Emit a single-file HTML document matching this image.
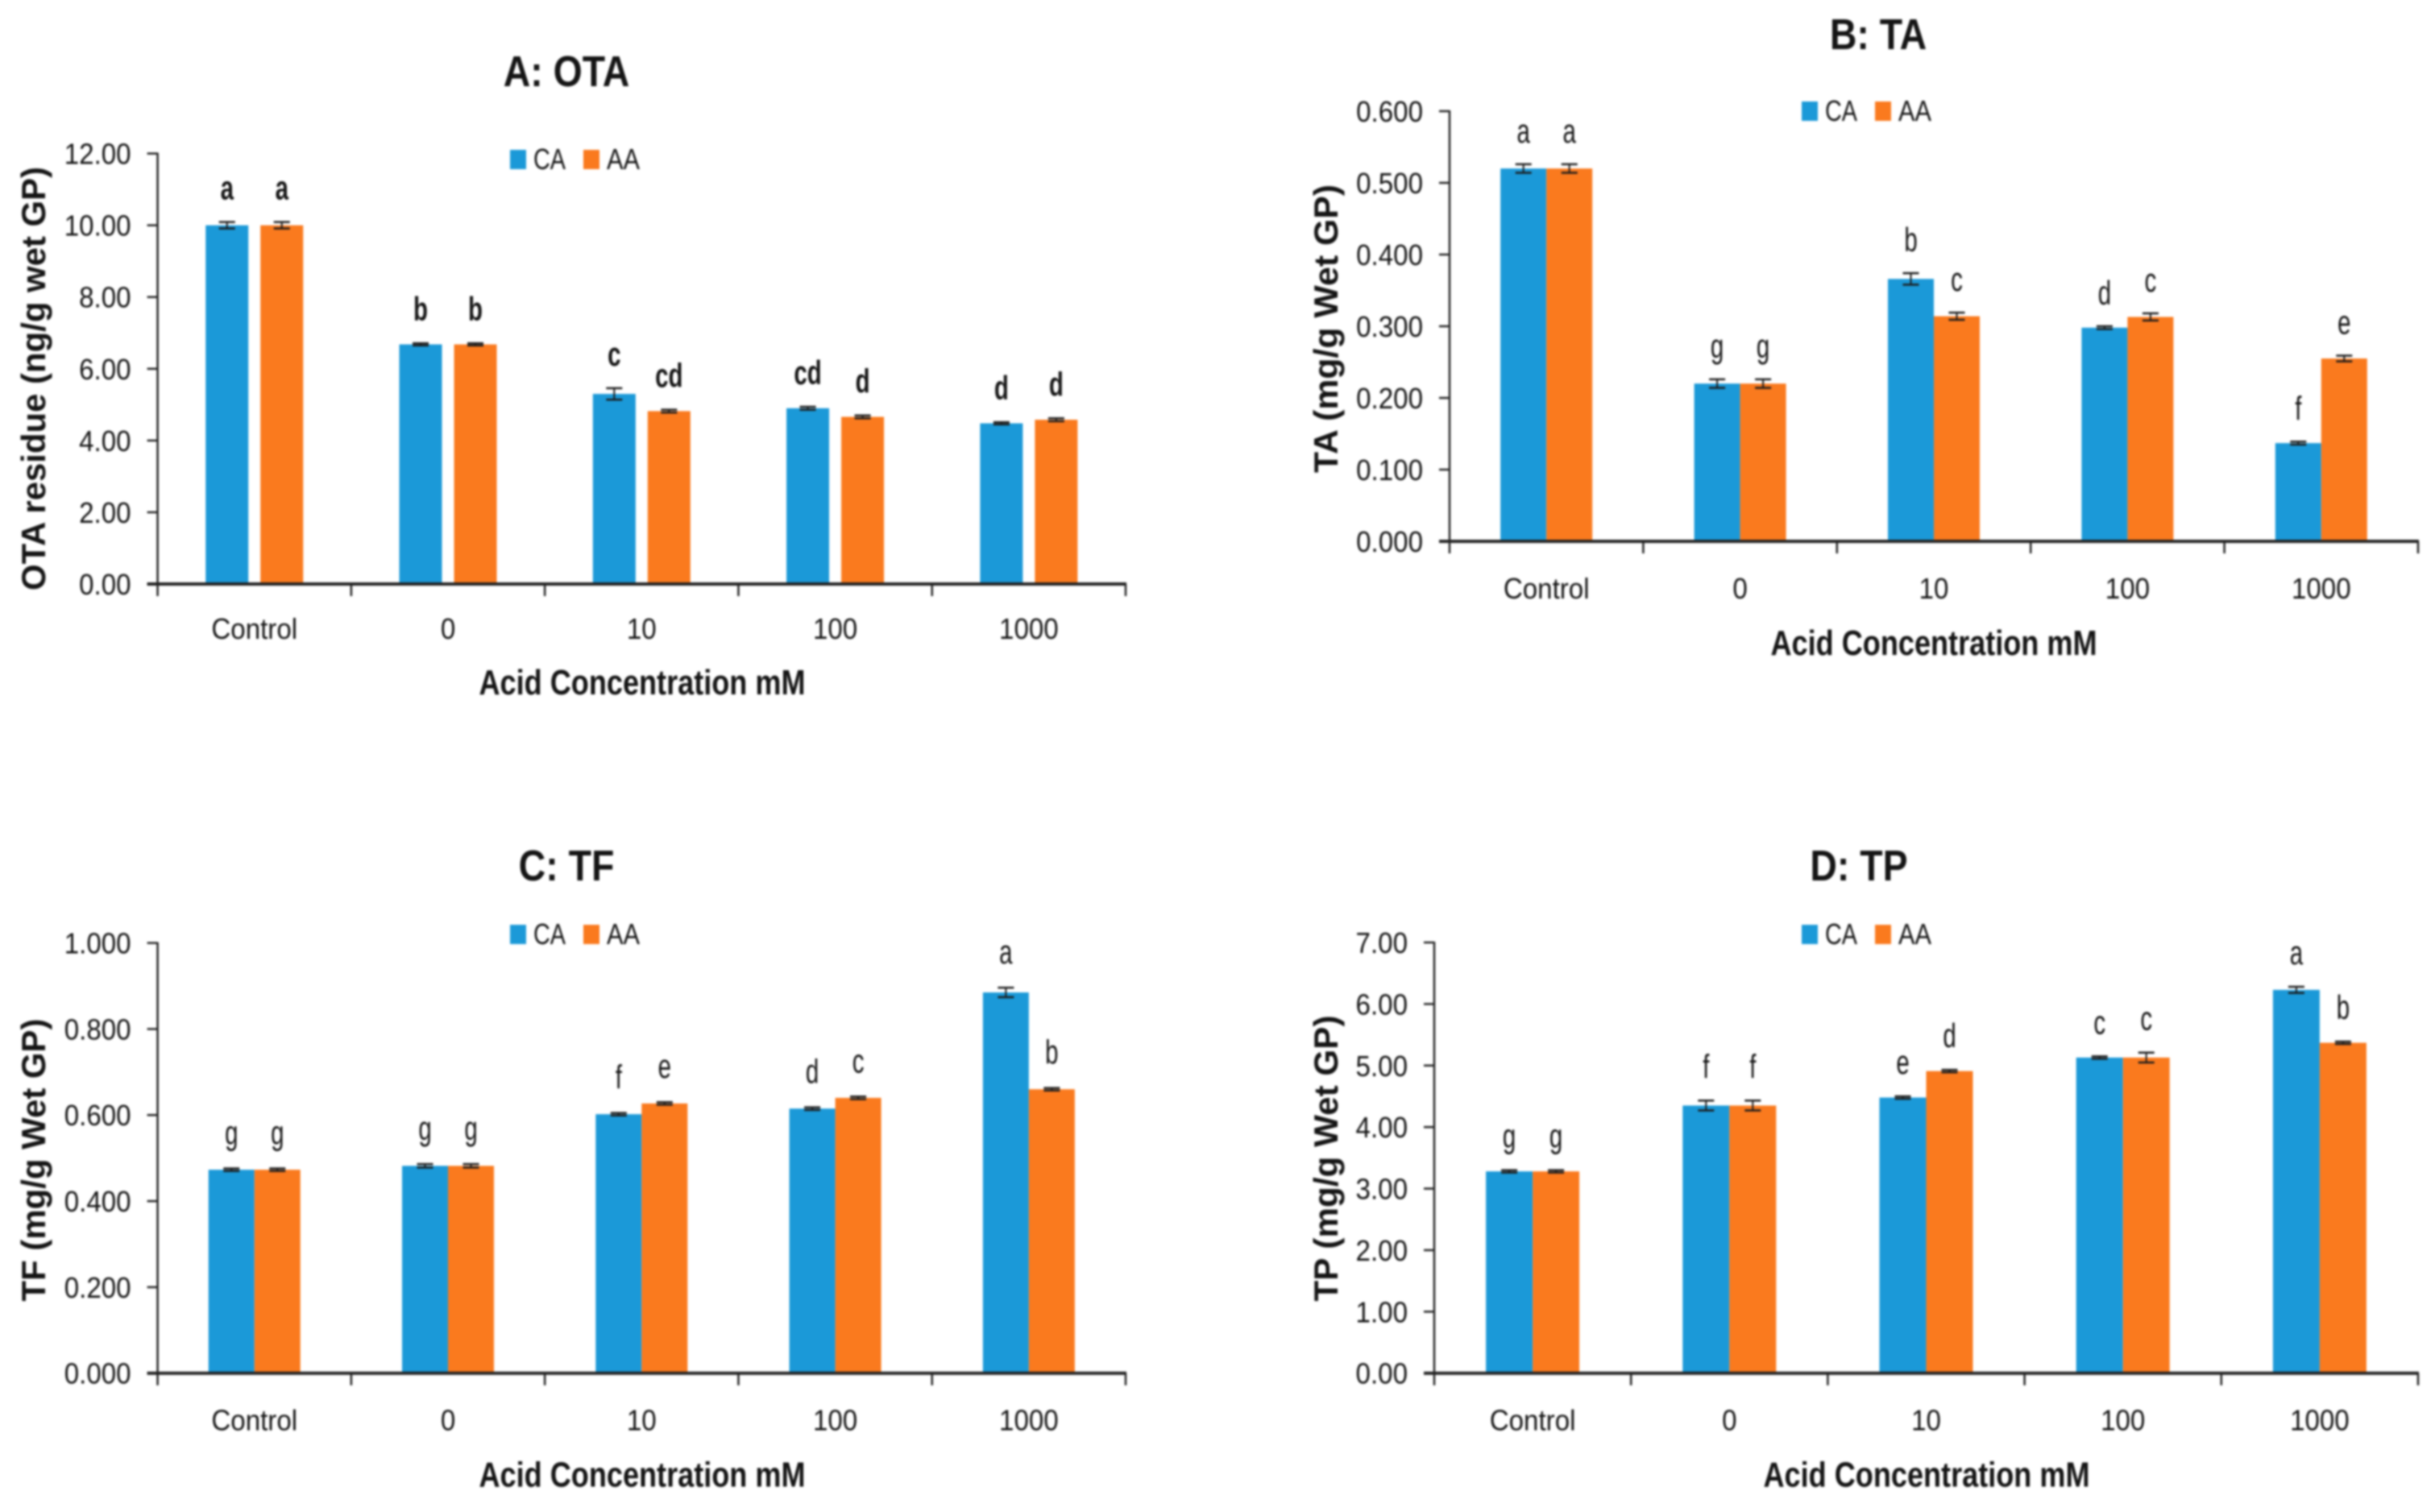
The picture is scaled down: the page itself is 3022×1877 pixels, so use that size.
<!DOCTYPE html>
<html>
<head>
<meta charset="utf-8">
<style>
html,body{margin:0;padding:0;background:#fff;width:3022px;height:1877px;overflow:hidden}
svg{display:block;filter:blur(1.3px)}
text{font-family:"Liberation Sans",sans-serif;fill:#141414}
</style>
</head>
<body>
<svg id="chart" xmlns="http://www.w3.org/2000/svg" width="3022" height="1877" viewBox="0 0 3022 1877"></svg>
<script>
const categories = ["Control", "0", "10", "100", "1000"];
const seriesNames = ["CA", "AA"];
const xAxisTitle = "Acid Concentration mM";

const otaCA = [10.0, 6.68, 5.3, 4.9, 4.48];
const otaAA = [10.0, 6.68, 4.82, 4.66, 4.58];
const otaCAErr = [0.09, 0.03, 0.16, 0.04, 0.03];
const otaAAErr = [0.09, 0.03, 0.04, 0.04, 0.04];
const otaCALetters = ["a", "b", "c", "cd", "d"];
const otaAALetters = ["a", "b", "cd", "d", "d"];
const otaTicks = ["0.00", "2.00", "4.00", "6.00", "8.00", "10.00", "12.00"];

const taCA = [0.52, 0.22, 0.366, 0.298, 0.137];
const taAA = [0.52, 0.22, 0.314, 0.313, 0.255];
const taCAErr = [0.006, 0.006, 0.008, 0.002, 0.002];
const taAAErr = [0.006, 0.006, 0.005, 0.005, 0.004];
const taCALetters = ["a", "g", "b", "d", "f"];
const taAALetters = ["a", "g", "c", "c", "e"];
const taTicks = ["0.000", "0.100", "0.200", "0.300", "0.400", "0.500", "0.600"];

const tfCA = [0.473, 0.482, 0.602, 0.615, 0.885];
const tfAA = [0.473, 0.482, 0.627, 0.64, 0.66];
const tfCAErr = [0.003, 0.004, 0.003, 0.003, 0.011];
const tfAAErr = [0.003, 0.004, 0.003, 0.003, 0.003];
const tfCALetters = ["g", "g", "f", "d", "a"];
const tfAALetters = ["g", "g", "e", "c", "b"];
const tfTicks = ["0.000", "0.200", "0.400", "0.600", "0.800", "1.000"];

const tpCA = [3.28, 4.35, 4.48, 5.13, 6.23];
const tpAA = [3.28, 4.35, 4.91, 5.13, 5.37];
const tpCAErr = [0.02, 0.08, 0.02, 0.02, 0.05];
const tpAAErr = [0.02, 0.08, 0.02, 0.08, 0.02];
const tpCALetters = ["g", "f", "e", "c", "a"];
const tpAALetters = ["g", "f", "d", "c", "b"];
const tpTicks = ["0.00", "1.00", "2.00", "3.00", "4.00", "5.00", "6.00", "7.00"];

const svg = document.getElementById('chart');
const NS = 'http://www.w3.org/2000/svg';
const BLUE = '#1b99d8';
const ORANGE = '#fa7a1e';

function mk(parent, tag, attrs, name, content) {
  const el = document.createElementNS(NS, tag);
  for (const k in attrs) el.setAttribute(k, attrs[k]);
  
  
  if (content !== undefined) el.textContent = content;
  parent.appendChild(el);
  return el;
}

function at(x, y, sx) {
  return 'translate(' + x + ',' + y + ') scale(' + sx + ',1)';
}

function drawPanel(p) {
  const g = mk(svg, 'g', {}, p.key + '-panel');
  const yMax = parseFloat(p.ticks[p.ticks.length - 1]);
  const yScale = v => p.y0 - (v / yMax) * (p.y0 - p.y1);
  const band = (p.x1 - p.x0) / categories.length;
  const xCenter = i => p.x0 + band * (i + 0.5);

  mk(g, 'text', {transform: at(p.titleX, p.titleY, 0.86), 'text-anchor': 'middle', 'font-size': 54, 'font-weight': 'bold'}, p.key + '-chart-title', p.title);

  // y-axis title
  mk(g, 'text', {
    transform: 'translate(' + p.yTitleX + ',' + p.yTitleC + ') rotate(-90)',
    'text-anchor': 'middle', 'font-size': 42, 'font-weight': 'bold',
    textLength: p.yTitleLen, lengthAdjust: 'spacingAndGlyphs'
  }, p.key + '-y-axis-title', p.yTitle);

  // legend
  const lg = mk(g, 'g', {}, p.key + '-legend');
  mk(lg, 'rect', {x: p.legX, y: p.legY, width: 20, height: 24, fill: BLUE}, 'legend-swatch-ca');
  mk(lg, 'text', {x: p.legX + 29, y: p.legY + 24, 'font-size': 36, textLength: 40, lengthAdjust: 'spacingAndGlyphs'}, 'legend-label-ca', seriesNames[0]);
  mk(lg, 'rect', {x: p.legX + 91, y: p.legY, width: 20, height: 24, fill: ORANGE}, 'legend-swatch-aa');
  mk(lg, 'text', {x: p.legX + 120, y: p.legY + 24, 'font-size': 36, textLength: 41, lengthAdjust: 'spacingAndGlyphs'}, 'legend-label-aa', seriesNames[1]);

  // y ticks
  p.ticks.forEach(t => {
    const y = yScale(parseFloat(t));
    mk(g, 'line', {x1: p.x0 - 13, x2: p.x0, y1: y, y2: y, stroke: '#222', 'stroke-width': 2.5}, p.key + '-y-tick');
    mk(g, 'text', {transform: at(p.x0 - 33, y + 13, 0.92), 'text-anchor': 'end', 'font-size': 36}, p.key + '-y-tick-label', t);
  });

  // bars
  categories.forEach((c, i) => {
    const cx = xCenter(i);
    const xs = [cx - p.gap / 2 - p.barW, cx + p.gap / 2];
    [[p.ca, p.caErr, p.caL, BLUE, 'ca'], [p.aa, p.aaErr, p.aaL, ORANGE, 'aa']].forEach((s, j) => {
      const v = s[0][i], e = s[1][i];
      const top = yScale(v);
      mk(g, 'rect', {x: xs[j], y: top, width: p.barW, height: p.y0 - top, fill: s[3]}, p.key + '-bar-' + s[4] + '-' + c.toLowerCase());
      const mx = xs[j] + p.barW / 2;
      mk(g, 'line', {x1: mx, x2: mx, y1: yScale(v + e), y2: yScale(v - e), stroke: '#1c1c1c', 'stroke-width': 2}, p.key + '-error-stem');
      mk(g, 'line', {x1: mx - 10, x2: mx + 10, y1: yScale(v + e), y2: yScale(v + e), stroke: '#1c1c1c', 'stroke-width': 2.5}, p.key + '-error-cap');
      mk(g, 'line', {x1: mx - 10, x2: mx + 10, y1: yScale(v - e), y2: yScale(v - e), stroke: '#1c1c1c', 'stroke-width': 2.5}, p.key + '-error-cap');
      mk(g, 'text', {
        transform: at(mx, yScale(v + e) - p.letterGap, 0.7),
        'text-anchor': 'middle', 'font-size': 42, 'font-weight': p.boldLetters ? 'bold' : 'normal'
      }, p.key + '-significance-letter', s[2][i]);
    });
    mk(g, 'text', {transform: at(cx, p.y0 + p.catDy, 0.92), 'text-anchor': 'middle', 'font-size': 36}, p.key + '-x-tick-label', c);
  });

  // axes
  mk(g, 'line', {x1: p.x0, x2: p.x0, y1: p.y1 - 1, y2: p.y0, stroke: '#222', 'stroke-width': 2.5}, p.key + '-y-axis');
  mk(g, 'line', {x1: p.x0 - 13, x2: p.x1 + 1, y1: p.y0, y2: p.y0, stroke: '#222', 'stroke-width': 4}, p.key + '-x-axis');
  for (let i = 0; i <= categories.length; i++) {
    const x = p.x0 + band * i;
    mk(g, 'line', {x1: x, x2: x, y1: p.y0, y2: p.y0 + 15, stroke: '#222', 'stroke-width': 2.5}, p.key + '-x-tick');
  }
  mk(g, 'text', {
    x: p.xTitleX, y: p.y0 + p.xTitleDy, 'text-anchor': 'middle', 'font-size': 44, 'font-weight': 'bold',
    textLength: 405, lengthAdjust: 'spacingAndGlyphs'
  }, p.key + '-x-axis-title', xAxisTitle);
}

drawPanel({key: 'ota', title: 'A: OTA', titleX: 703, titleY: 107, yTitle: 'OTA residue (ng/g wet GP)',
  yTitleX: 56, yTitleC: 470, yTitleLen: 526,
  x0: 195.6, x1: 1397, y0: 725, y1: 190.6, barW: 53, gap: 15, ticks: otaTicks,
  ca: otaCA, aa: otaAA, caErr: otaCAErr, aaErr: otaAAErr, caL: otaCALetters, aaL: otaAALetters,
  boldLetters: true, letterGap: 28, catDy: 68, xTitleX: 797, xTitleDy: 137, legX: 633, legY: 186});

drawPanel({key: 'ta', title: 'B: TA', titleX: 2331, titleY: 61, yTitle: 'TA (mg/g Wet GP)',
  yTitleX: 1660, yTitleC: 408, yTitleLen: 358,
  x0: 1799, x1: 3001, y0: 672, y1: 138, barW: 57, gap: 0, ticks: taTicks,
  ca: taCA, aa: taAA, caErr: taCAErr, aaErr: taAAErr, caL: taCALetters, aaL: taAALetters,
  boldLetters: false, letterGap: 27, catDy: 71, xTitleX: 2400, xTitleDy: 141, legX: 2236, legY: 126});

drawPanel({key: 'tf', title: 'C: TF', titleX: 703, titleY: 1093, yTitle: 'TF (mg/g Wet GP)',
  yTitleX: 56, yTitleC: 1440, yTitleLen: 351,
  x0: 195.6, x1: 1397, y0: 1704.7, y1: 1170.6, barW: 57, gap: 0, ticks: tfTicks,
  ca: tfCA, aa: tfAA, caErr: tfCAErr, aaErr: tfAAErr, caL: tfCALetters, aaL: tfAALetters,
  boldLetters: false, letterGap: 30, catDy: 71, xTitleX: 797, xTitleDy: 141, legX: 633, legY: 1148});

drawPanel({key: 'tp', title: 'D: TP', titleX: 2307, titleY: 1093, yTitle: 'TP (mg/g Wet GP)',
  yTitleX: 1660, yTitleC: 1438, yTitleLen: 355,
  x0: 1780, x1: 3001, y0: 1704.7, y1: 1170, barW: 58, gap: 0, ticks: tpTicks,
  ca: tpCA, aa: tpAA, caErr: tpCAErr, aaErr: tpAAErr, caL: tpCALetters, aaL: tpAALetters,
  boldLetters: false, letterGap: 28, catDy: 71, xTitleX: 2391, xTitleDy: 141, legX: 2236, legY: 1148});
</script>
</body>
</html>
